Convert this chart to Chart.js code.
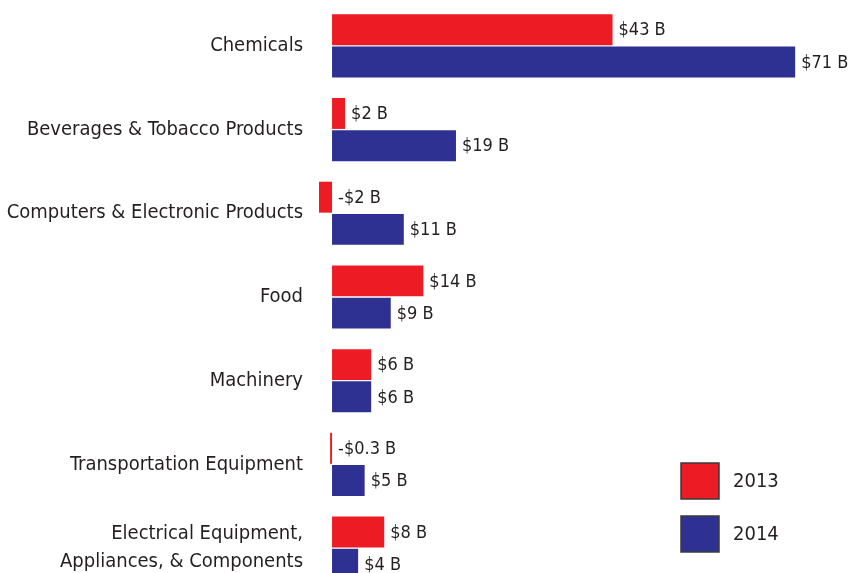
<!DOCTYPE html>
<html>
<head>
<meta charset="utf-8">
<script src="https://cdn.jsdelivr.net/npm/chart.js@4.4.0/dist/chart.umd.min.js"></script>
<style>
html,body{margin:0;padding:0;background:#fff;overflow:hidden;}
#wrap{width:848px;height:590px;}
</style>
</head>
<body>
<div id="wrap"><canvas id="c" width="848" height="590"></canvas></div>
<script>
const categories = [
  "Chemicals",
  "Beverages & Tobacco Products",
  "Computers & Electronic Products",
  "Food",
  "Machinery",
  "Transportation Equipment",
  ["Electrical Equipment,", "Appliances, & Components"]
];
const seriesNames = ["2013", "2014"];
const values2013 = [43, 2, -2, 14, 6, -0.3, 8];
const values2014 = [71, 19, 11, 9, 6, 5, 4];
const seriesColors = ["#ED1C24", "#2E3192"];

const FONT = "'Liberation Sans Narrow', 'DejaVu Sans Condensed', 'Roboto Condensed', sans-serif";

function fmt(v){ return (v < 0 ? "-$" : "$") + Math.abs(v) + " B"; }

const valueLabels = {
  id: 'valueLabels',
  afterDatasetsDraw(chart){
    const ctx = chart.ctx;
    const xs = chart.scales.x;
    const zero = xs.getPixelForValue(0);
    ctx.save();
    ctx.font = "18px " + FONT;
    ctx.fillStyle = "#231f20";
    ctx.textBaseline = "middle";
    ctx.textAlign = "left";
    chart.data.datasets.forEach((ds, di) => {
      chart.getDatasetMeta(di).data.forEach((bar, i) => {
        const v = ds.data[i];
        const x = Math.max(bar.x, zero) + 6;
        ctx.fillText(fmt(v), x, bar.y + 1);
      });
    });
    ctx.restore();
  }
};

const boxLegend = {
  id: 'boxLegend',
  afterDraw(chart){
    const ctx = chart.ctx;
    ctx.save();
    ctx.font = "20px " + FONT;
    ctx.textBaseline = "middle";
    ctx.textAlign = "left";
    chart.data.datasets.forEach((ds, di) => {
      const x = 681, y = 463 + di * 53;
      ctx.fillStyle = ds.backgroundColor;
      ctx.fillRect(x, y, 38, 36);
      ctx.strokeStyle = "#3a3a3a";
      ctx.lineWidth = 1.5;
      ctx.strokeRect(x, y, 38, 36);
      ctx.fillStyle = "#231f20";
      ctx.fillText(ds.label, 733, y + 19);
    });
    ctx.restore();
  }
};

new Chart(document.getElementById('c'), {
  type: 'bar',
  data: {
    labels: categories,
    datasets: [
      { label: seriesNames[0], data: values2013, backgroundColor: seriesColors[0] },
      { label: seriesNames[1], data: values2014, backgroundColor: seriesColors[1] }
    ]
  },
  options: {
    indexAxis: 'y',
    responsive: false,
    animation: false,
    devicePixelRatio: 1,
    categoryPercentage: 0.77,
    barPercentage: 0.96,
    layout: { padding: { top: 4, bottom: 0, left: 0, right: 0 } },
    plugins: { legend: { display: false }, tooltip: { enabled: false } },
    scales: {
      x: { display: false, min: -2, max: 79.1 },
      y: {
        grid: { display: false, drawTicks: false },
        border: { display: false },
        ticks: { padding: 16, color: "#231f20", font: { family: FONT, size: 20, lineHeight: 1.4 } },
        afterFit(scale){ scale.width = 319; scale.paddingTop = 0; scale.paddingBottom = 0; }
      }
    }
  },
  plugins: [valueLabels, boxLegend]
});
</script>
</body>
</html>
